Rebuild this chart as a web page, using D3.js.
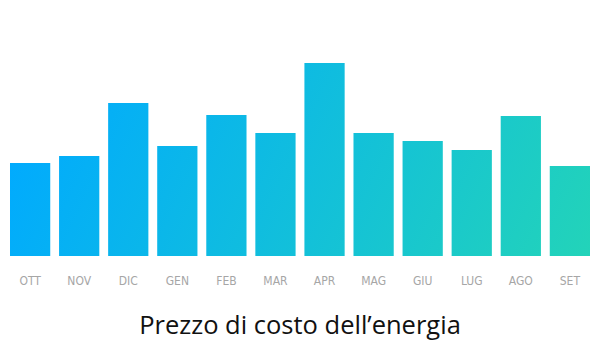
<!DOCTYPE html>
<html><head><meta charset="utf-8">
<script src="https://cdn.jsdelivr.net/npm/d3@7"></script>
<style>html,body{margin:0;padding:0;background:#fff;}svg{display:block;}</style>
</head><body>
<svg id="chart" width="600" height="355"></svg>
<script>
const months = ["OTT","NOV","DIC","GEN","FEB","MAR","APR","MAG","GIU","LUG","AGO","SET"];
const values = [93, 100, 153, 110, 141, 123, 193, 123, 115, 106, 140, 90];
const title = "Prezzo di costo dell\u2019energia";

const svg = d3.select("#chart");
const x = d3.scaleBand().domain(months).range([10, 590]).paddingInner(0.18).paddingOuter(0);
const y = d3.scaleLinear().domain([0, 200]).range([256, 56]);

const defs = svg.append("defs");
const g = defs.append("linearGradient").attr("id","grad")
  .attr("gradientUnits","userSpaceOnUse")
  .attr("x1",60).attr("y1",30).attr("x2",600).attr("y2",290);
g.append("stop").attr("offset","0%").attr("stop-color","#00aaff");
g.append("stop").attr("offset","100%").attr("stop-color","#24d5b6");

svg.append("g").selectAll("rect").data(values).join("rect")
  .attr("x",(d,i)=>x(months[i]))
  .attr("width",x.bandwidth())
  .attr("y",d=>y(d))
  .attr("height",d=>y(0)-y(d))
  .attr("fill","url(#grad)");

const axis = d3.axisBottom(x).tickSize(0).tickPadding(0);
const ax = svg.append("g").attr("transform","translate(0,276)").call(axis);
ax.select(".domain").remove();
ax.selectAll("text")
  .attr("font-family","'DejaVu Sans Condensed','DejaVu Sans',sans-serif")
  .attr("font-size",12).attr("fill","#a6a6a6").attr("dy","0.71em").attr("y",0);

svg.append("text").attr("x",300).attr("y",334).attr("text-anchor","middle")
  .attr("font-family","'Open Sans',sans-serif").attr("font-size",25.5).attr("fill","#111")
  .text(title);
</script>
</body></html>
